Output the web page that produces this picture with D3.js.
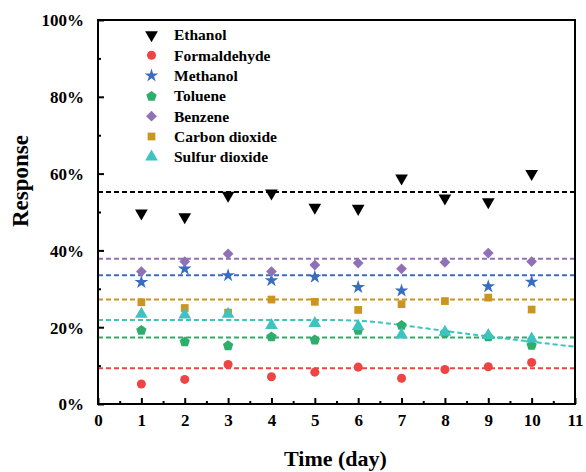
<!DOCTYPE html>
<html>
<head>
<meta charset="utf-8">
<script src="https://cdn.jsdelivr.net/npm/d3@7"></script>
<style>
  body { margin: 0; background: #fff; }
  text { font-family: "Liberation Serif", "Times New Roman", serif; font-weight: bold; }
</style>
</head>
<body>
<div id="chart"></div>
<script>
// Données (réponse en %)
const days = [1, 2, 3, 4, 5, 6, 7, 8, 9, 10];
const ethanol      = [49.7, 48.7, 54.3, 54.9, 51.2, 50.9, 58.8, 53.6, 52.6, 60.0];
const formaldehyde = [5.2, 6.4, 10.3, 7.1, 8.3, 9.6, 6.7, 9.0, 9.7, 10.8];
const methanol     = [31.7, 35.2, 33.5, 32.2, 33.1, 30.4, 29.5, null, 30.6, 31.8];
const toluene      = [19.3, 16.3, 15.3, 17.6, 16.8, 19.3, 20.6, 18.6, 17.6, 15.4];
const benzene      = [34.5, 37.1, 39.1, 34.5, 36.2, 36.7, 35.2, 36.9, 39.3, 37.1];
const co2          = [26.5, 25.0, 23.8, 27.2, 26.6, 24.5, 26.0, 26.8, 27.7, 24.6];
const so2          = [23.4, 23.2, 23.4, 20.5, 21.0, 20.2, 18.0, 18.7, 17.9, 17.0];

// Lignes de référence (moyennes)
const seriesNames = ["Ethanol", "Formaldehyde", "Methanol", "Toluene", "Benzene", "Carbon dioxide", "Sulfur dioxide"];
const refLevels = [55.2, 9.3, 33.5, 17.3, 37.8, 27.2, 21.9];

// Tendance du dioxyde de soufre
const so2TrendX = [0, 5, 6, 7, 8, 9, 10, 11];
const so2TrendY = [21.9, 21.9, 21.9, 20.6, 19.0, 17.6, 16.2, 14.9];

const xTicks = [0, 1, 2, 3, 4, 5, 6, 7, 8, 9, 10, 11];
const yTicks = [0, 20, 40, 60, 80, 100];

const colors = ["#000000", "#EF4444", "#3A6CC0", "#2EAE6C", "#9171B6", "#CB951F", "#3DC3C0"];
const values = [ethanol, formaldehyde, methanol, toluene, benzene, co2, so2];

// Dimensions
const W = 586, H = 472;
const margin = { top: 20, right: 11, bottom: 68, left: 98 };
const width = W - margin.left - margin.right;
const height = H - margin.top - margin.bottom;

const svg = d3.select("#chart").append("svg")
  .attr("width", W).attr("height", H);
const g = svg.append("g").attr("transform", `translate(${margin.left},${margin.top})`);

const x = d3.scaleLinear().domain([0, 11]).range([0, width]);
const y = d3.scaleLinear().domain([0, 100]).range([height, 0]);

// Pentagone maison
const pentagon = {
  draw(ctx, size) {
    const r = Math.sqrt(size / 2.378);
    for (let i = 0; i < 5; i++) {
      const a = -Math.PI / 2 + i * 2 * Math.PI / 5;
      const px = r * Math.cos(a), py = r * Math.sin(a) + r * 0.1;
      if (i === 0) ctx.moveTo(px, py); else ctx.lineTo(px, py);
    }
    ctx.closePath();
  }
};

const markers = [
  { type: d3.symbolTriangle, size: 70, rot: 180 },
  { type: d3.symbolCircle, size: 64, rot: 0 },
  { type: d3.symbolStar, size: 58, rot: 0 },
  { type: pentagon, size: 70, rot: 0 },
  { type: d3.symbolSquare, size: 58, rot: 45 },
  { type: d3.symbolSquare, size: 60, rot: 0 },
  { type: d3.symbolTriangle, size: 70, rot: 0 }
];

function drawMarker(sel, i, cx, cy) {
  sel.append("path")
    .attr("d", d3.symbol().type(markers[i].type).size(markers[i].size)())
    .attr("transform", `translate(${cx},${cy}) rotate(${markers[i].rot})`)
    .attr("fill", colors[i]);
}

// Lignes de référence en pointillés
refLevels.forEach((v, i) => {
  if (i === 6) return;
  g.append("line")
    .attr("x1", x(0)).attr("x2", x(11))
    .attr("y1", y(v)).attr("y2", y(v))
    .attr("stroke", colors[i]).attr("stroke-width", 2)
    .attr("stroke-dasharray", "5,3");
});

const trendLine = d3.line()
  .x((d, k) => x(so2TrendX[k]))
  .y(d => y(d))
  .curve(d3.curveBasis);
g.append("path")
  .datum(so2TrendY)
  .attr("d", trendLine)
  .attr("fill", "none")
  .attr("stroke", colors[6]).attr("stroke-width", 2)
  .attr("stroke-dasharray", "5,3");

// Points
values.forEach((arr, i) => {
  arr.forEach((v, k) => {
    if (v === null) return;
    drawMarker(g, i, x(days[k]), y(v));
  });
});

// Axes (graduations vers l'intérieur)
const xAxis = g.append("g").attr("transform", `translate(0,${height})`)
  .call(d3.axisBottom(x).tickValues(xTicks).tickFormat(d3.format("d")).tickSizeInner(-6).tickSizeOuter(0).tickPadding(10));
const xMinor = g.append("g").attr("transform", `translate(0,${height})`)
  .call(d3.axisBottom(x).tickValues(d3.range(0.5, 11, 1)).tickFormat("").tickSizeInner(-3).tickSizeOuter(0));
const yAxis = g.append("g")
  .call(d3.axisLeft(y).tickValues(yTicks).tickFormat(d => d + "%").tickSizeInner(-6).tickSizeOuter(0).tickPadding(14));
const yMinor = g.append("g")
  .call(d3.axisLeft(y).tickValues([10, 30, 50, 70, 90]).tickFormat("").tickSizeInner(-3).tickSizeOuter(0));

[xAxis, xMinor, yAxis, yMinor].forEach(a => {
  a.select(".domain").remove();
  a.selectAll("line").attr("stroke", "#000").attr("stroke-width", 2);
  a.selectAll("text").attr("font-size", 17).attr("fill", "#000");
});
yAxis.selectAll("text").attr("dy", "0.35em");

// Cadre
g.append("rect")
  .attr("x", 0).attr("y", 0).attr("width", width).attr("height", height)
  .attr("fill", "none").attr("stroke", "#000").attr("stroke-width", 2);

// Titres des axes
svg.append("text")
  .attr("x", margin.left + width / 2 - 1).attr("y", 466)
  .attr("text-anchor", "middle").attr("font-size", 22)
  .text("Time (day)");
svg.append("text")
  .attr("transform", `translate(28,${181}) rotate(-90)`)
  .attr("text-anchor", "middle").attr("font-size", 23)
  .text("Response");

// Légende
const legend = svg.append("g");
seriesNames.forEach((name, i) => {
  const ly = 35 + i * 20.3;
  drawMarker(legend, i, 151.5, ly);
  legend.append("text")
    .attr("x", 174).attr("y", ly).attr("dy", "0.35em")
    .attr("font-size", 15.5).attr("fill", "#000")
    .text(name);
});
</script>
</body>
</html>
